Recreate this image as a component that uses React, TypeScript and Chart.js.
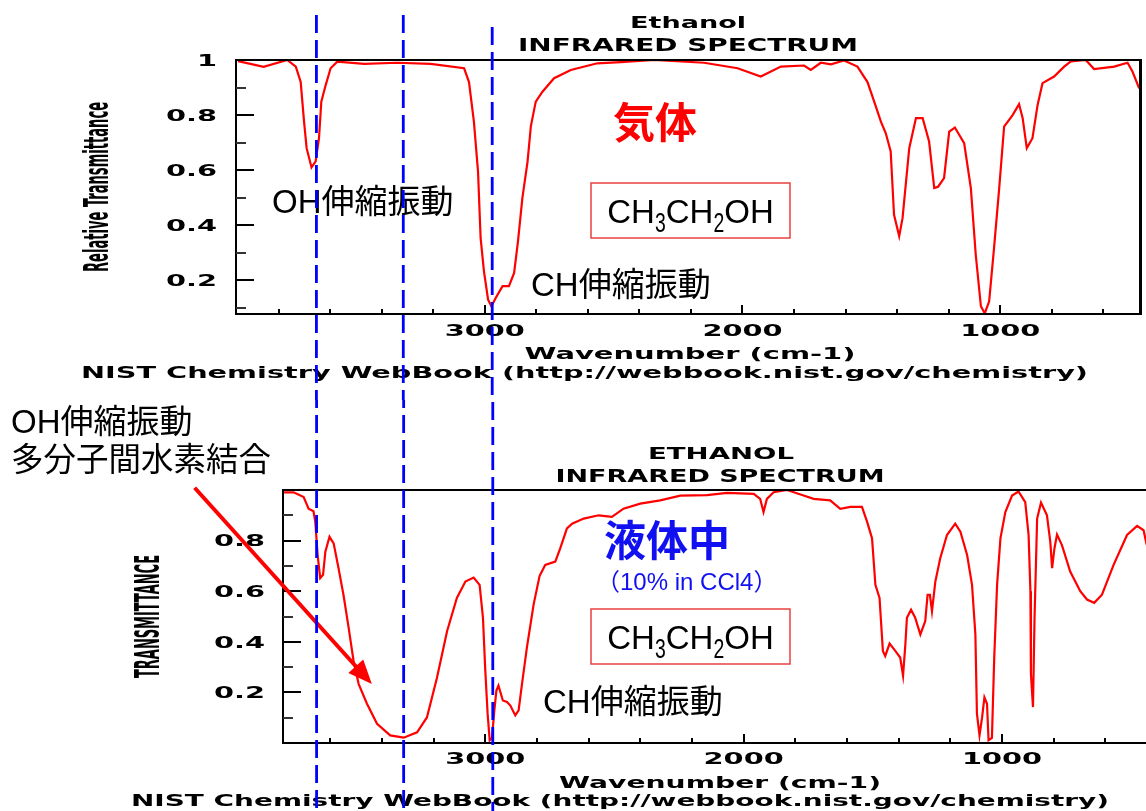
import React, { useEffect, useRef } from "react";
import { Chart, registerables } from "chart.js";

Chart.register(...registerables);

// ---------------- data ----------------
// Gas phase (top) spectrum
const gasWavenumber = [3957, 3858, 3766, 3733, 3714, 3701, 3691, 3672, 3656, 3643, 3634, 3617, 3598, 3572, 3468, 3339, 3210, 3080, 3061, 3042, 3026, 3016, 3003, 2987, 2974, 2957, 2931, 2906, 2886, 2871, 2854, 2834, 2821, 2802, 2776, 2731, 2666, 2563, 2472, 2343, 2149, 2019, 1929, 1851, 1761, 1735, 1696, 1657, 1606, 1554, 1515, 1489, 1463, 1444, 1425, 1412, 1392, 1379, 1353, 1327, 1301, 1276, 1256, 1241, 1218, 1198, 1176, 1140, 1114, 1095, 1075, 1060, 1043, 1024, 1004, 985, 952, 927, 913, 897, 875, 855, 836, 791, 752, 726, 668, 636, 558, 506, 487, 461];
const gasTransmittance = [0.996, 0.975, 1.0, 0.976, 0.92, 0.776, 0.68, 0.61, 0.632, 0.716, 0.849, 0.909, 0.97, 0.994, 0.986, 0.99, 0.986, 0.97, 0.92, 0.776, 0.595, 0.354, 0.233, 0.13, 0.106, 0.137, 0.179, 0.179, 0.227, 0.342, 0.499, 0.63, 0.76, 0.849, 0.885, 0.934, 0.964, 0.988, 0.992, 1.0, 0.99, 0.97, 0.94, 0.976, 0.98, 0.964, 0.99, 0.984, 0.998, 0.976, 0.92, 0.849, 0.776, 0.734, 0.668, 0.438, 0.36, 0.426, 0.68, 0.789, 0.789, 0.704, 0.535, 0.54, 0.571, 0.74, 0.755, 0.698, 0.535, 0.293, 0.106, 0.08, 0.124, 0.318, 0.535, 0.758, 0.8, 0.84, 0.789, 0.68, 0.716, 0.837, 0.916, 0.94, 0.976, 0.995, 1.0, 0.967, 0.976, 0.99, 0.958, 0.897];

// Liquid (10% in CCl4, bottom) spectrum
const liquidWavenumber = [3781, 3742, 3703, 3684, 3665, 3658, 3649, 3639, 3628, 3619, 3603, 3587, 3568, 3549, 3529, 3510, 3490, 3458, 3419, 3368, 3316, 3264, 3226, 3187, 3148, 3110, 3077, 3045, 3022, 3009, 3000, 2991, 2983, 2974, 2965, 2957, 2949, 2932, 2916, 2903, 2884, 2871, 2858, 2839, 2813, 2790, 2768, 2729, 2710, 2684, 2664, 2619, 2561, 2510, 2465, 2400, 2323, 2245, 2142, 2064, 1961, 1936, 1923, 1910, 1884, 1832, 1768, 1729, 1665, 1626, 1587, 1542, 1522, 1503, 1490, 1474, 1461, 1452, 1435, 1413, 1394, 1383, 1374, 1368, 1352, 1336, 1316, 1297, 1288, 1279, 1271, 1258, 1239, 1213, 1181, 1161, 1135, 1116, 1103, 1097, 1087, 1077, 1068, 1058, 1052, 1039, 1030, 1019, 1006, 987, 961, 936, 910, 897, 890, 888, 880, 874, 864, 849, 826, 813, 806, 797, 787, 768, 736, 697, 671, 643, 613, 568, 516, 477, 452, 441, 420];
const liquidTransmittance = [0.991, 0.991, 0.972, 0.926, 0.916, 0.874, 0.743, 0.652, 0.665, 0.756, 0.815, 0.789, 0.691, 0.586, 0.456, 0.325, 0.233, 0.155, 0.076, 0.03, 0.021, 0.042, 0.101, 0.258, 0.442, 0.573, 0.638, 0.654, 0.625, 0.495, 0.286, 0.116, 0.011, 0.02, 0.129, 0.207, 0.227, 0.168, 0.162, 0.148, 0.109, 0.129, 0.233, 0.377, 0.547, 0.66, 0.704, 0.717, 0.769, 0.848, 0.867, 0.887, 0.9, 0.894, 0.926, 0.946, 0.959, 0.978, 0.98, 0.989, 0.985, 0.965, 0.913, 0.965, 0.991, 1.0, 0.978, 0.965, 0.959, 0.926, 0.933, 0.933, 0.874, 0.809, 0.625, 0.573, 0.364, 0.344, 0.393, 0.364, 0.338, 0.266, 0.39, 0.495, 0.527, 0.495, 0.429, 0.482, 0.586, 0.586, 0.521, 0.638, 0.73, 0.822, 0.867, 0.835, 0.743, 0.625, 0.429, 0.116, 0.03, 0.101, 0.18, 0.155, 0.011, 0.02, 0.338, 0.625, 0.809, 0.913, 0.978, 0.994, 0.952, 0.822, 0.6, 0.273, 0.142, 0.495, 0.887, 0.95, 0.9, 0.795, 0.691, 0.769, 0.824, 0.782, 0.678, 0.6, 0.567, 0.554, 0.586, 0.704, 0.822, 0.858, 0.841, 0.789, 0.72];

// ticks
const xMajorTicks = [3000, 2000, 1000];
const xMinorTicks = [3800, 3600, 3400, 3200, 2800, 2600, 2400, 2200, 1800, 1600, 1400, 1200, 800, 600, 400];
const gasYLabels = [1, 0.8, 0.6, 0.4, 0.2];
const liquidYLabels = [0.8, 0.6, 0.4, 0.2];
const yMajorTicks = [0.8, 0.6, 0.4, 0.2];
const yMinorTicks = [0.9, 0.7, 0.5, 0.3, 0.1];

// blue dashed guide lines (wavenumbers)
const guideLines = [3653, 3316, 2971];
const guideTops = [15, 15, 27];

// formula parts: [text, isSubscript]
const formulaParts: [string, boolean][] = [["CH", false], ["3", true], ["CH", false], ["2", true], ["OH", false]];

// -------------- fonts --------------
const WIDE = '"DejaVu Sans", "Liberation Sans", sans-serif';
const NARROW = '"Liberation Sans Narrow", "DejaVu Sans Condensed", "Liberation Sans", sans-serif';
const JP = '"Liberation Sans", "Noto Sans CJK JP", sans-serif';
const ARIAL = '"Liberation Sans", Arial, sans-serif';

type TextOpt = {
  size: number; family: string; weight?: string; color?: string;
  align?: CanvasTextAlign; width?: number; stretch?: number; vertical?: boolean;
};

function drawText(ctx: CanvasRenderingContext2D, text: string, x: number, y: number, o: TextOpt) {
  ctx.save();
  ctx.font = `${o.weight || "normal"} ${o.size}px ${o.family}`;
  ctx.fillStyle = o.color || "#000";
  ctx.textAlign = o.align || "left";
  ctx.textBaseline = "middle";
  const w = ctx.measureText(text).width;
  const sx = o.width ? o.width / w : o.stretch || 1;
  ctx.translate(x, y);
  if (o.vertical) ctx.rotate(-Math.PI / 2);
  ctx.scale(sx, 1);
  ctx.fillText(text, 0, 0);
  ctx.restore();
}

function drawFormulaBox(ctx: CanvasRenderingContext2D, bx: number, by: number, bw: number, bh: number) {
  ctx.save();
  ctx.strokeStyle = "#e8413f";
  ctx.lineWidth = 1.5;
  ctx.strokeRect(bx, by, bw, bh);
  const mainFont = `33px ${ARIAL}`;
  const subFont = `27px ${ARIAL}`;
  const subStretch = 0.72;
  let total = 0;
  const widths = formulaParts.map(([t, sub]) => {
    ctx.font = sub ? subFont : mainFont;
    const w = ctx.measureText(t).width * (sub ? subStretch : 1);
    total += w;
    return w;
  });
  let x = bx + bw / 2 - total / 2;
  const base = by + 40;
  ctx.fillStyle = "#000";
  ctx.textBaseline = "alphabetic";
  ctx.textAlign = "left";
  formulaParts.forEach(([t, sub], i) => {
    ctx.save();
    ctx.font = sub ? subFont : mainFont;
    ctx.translate(x, sub ? base + 9 : base);
    if (sub) ctx.scale(subStretch, 1);
    ctx.fillText(t, 0, 0);
    ctx.restore();
    x += widths[i];
  });
  ctx.restore();
}

type Deco = {
  yLabels: number[];
  labelGap: number;
  xLabelY: number;
  rightBorder: boolean;
  guideStart: (i: number) => number;
  guideOffset: (i: number) => number;
  annotate: (chart: any, ctx: CanvasRenderingContext2D) => void;
};

function makeDecor(d: Deco) {
  return {
    id: "decor",
    afterDraw(chart: any) {
      const ctx: CanvasRenderingContext2D = chart.ctx;
      const a = chart.chartArea;
      const xs = chart.scales.x;
      const ys = chart.scales.y;
      ctx.save();
      // frame
      ctx.strokeStyle = "#000";
      ctx.lineWidth = 2;
      ctx.beginPath();
      ctx.moveTo(a.left, a.top);
      ctx.lineTo(a.right, a.top);
      ctx.moveTo(a.left, a.top - 1);
      ctx.lineTo(a.left, a.bottom + 1);
      ctx.moveTo(a.left, a.bottom);
      ctx.lineTo(a.right, a.bottom);
      ctx.stroke();
      if (d.rightBorder) {
        ctx.lineWidth = 3;
        ctx.beginPath();
        ctx.moveTo(a.right - 1.5, a.top - 1);
        ctx.lineTo(a.right - 1.5, a.bottom + 1);
        ctx.stroke();
      }
      // y ticks (inward)
      const yTick = (v: number, len: number, col: string) => {
        if (v < ys.min || v > ys.max) return;
        const py = Math.round(ys.getPixelForValue(v));
        ctx.strokeStyle = col;
        ctx.lineWidth = 2;
        ctx.beginPath();
        ctx.moveTo(a.left, py);
        ctx.lineTo(a.left + len, py);
        ctx.stroke();
      };
      yMinorTicks.forEach((v) => yTick(v, 10, "#333"));
      yMajorTicks.forEach((v) => yTick(v, 18, "#000"));
      // x ticks (inward)
      const xTick = (v: number, len: number) => {
        if (v < xs.min || v > xs.max) return;
        const px = Math.round(xs.getPixelForValue(v));
        ctx.strokeStyle = "#000";
        ctx.lineWidth = 2;
        ctx.beginPath();
        ctx.moveTo(px, a.bottom);
        ctx.lineTo(px, a.bottom - len);
        ctx.stroke();
      };
      xMinorTicks.forEach((v) => xTick(v, 5));
      xMajorTicks.forEach((v) => xTick(v, 9));
      // tick labels
      d.yLabels.forEach((v) => {
        drawText(ctx, String(v), a.left - d.labelGap, ys.getPixelForValue(v) + 2, {
          size: 15, family: WIDE, weight: "bold", align: "right", stretch: 1.92,
        });
      });
      xMajorTicks.forEach((v) => {
        drawText(ctx, String(v), xs.getPixelForValue(v), d.xLabelY, {
          size: 15, family: WIDE, weight: "bold", align: "center", stretch: 1.92,
        });
      });
      // annotations
      d.annotate(chart, ctx);
      // blue dashed guide lines
      ctx.strokeStyle = "#0000ff";
      ctx.lineWidth = 2.8;
      ctx.setLineDash([18, 7]);
      guideLines.forEach((v, i) => {
        const px = xs.getPixelForValue(v);
        ctx.lineDashOffset = d.guideOffset(i);
        ctx.beginPath();
        ctx.moveTo(px, d.guideStart(i));
        ctx.lineTo(px, chart.height);
        ctx.stroke();
      });
      ctx.restore();
    },
  };
}

function baseOptions(xmin: number, xmax: number, ymin: number, ymax: number, padding: any) {
  return {
    animation: false,
    responsive: false,
    devicePixelRatio: 1,
    layout: { padding },
    plugins: { legend: { display: false }, tooltip: { enabled: false }, title: { display: false } },
    elements: { point: { radius: 0 }, line: { tension: 0 } },
    scales: {
      x: {
        type: "linear", reverse: true, min: xmin, max: xmax,
        ticks: { display: false }, grid: { display: false }, border: { display: false },
        afterFit: (s: any) => { s.height = 0; },
      },
      y: {
        type: "linear", min: ymin, max: ymax,
        ticks: { display: false }, grid: { display: false }, border: { display: false },
        afterFit: (s: any) => { s.width = 0; },
      },
    },
  };
}

function makeGasChart(canvas: HTMLCanvasElement) {
  const points = gasWavenumber.map((w, i) => ({ x: w, y: gasTransmittance[i] }));
  const decor = makeDecor({
    yLabels: gasYLabels,
    labelGap: 19,
    xLabelY: 332,
    rightBorder: true,
    guideStart: (i) => guideTops[i],
    guideOffset: () => 0,
    annotate: (chart, ctx) => {
      drawText(ctx, "Ethanol", 688, 24, { size: 16, family: WIDE, weight: "bold", align: "center", width: 116 });
      drawText(ctx, "INFRARED SPECTRUM", 688, 46.5, { size: 17, family: WIDE, weight: "bold", align: "center", width: 340 });
      drawText(ctx, "Wavenumber (cm-1)", 690, 355, { size: 16, family: WIDE, weight: "bold", align: "center", width: 331 });
      drawText(ctx, "NIST Chemistry WebBook (http://webbook.nist.gov/chemistry)", 584.5, 374, { size: 16, family: WIDE, weight: "bold", align: "center", width: 1007 });
      drawText(ctx, "Relative Transmittance", 99, 187, { size: 34, family: NARROW, weight: "bold", align: "center", width: 170, vertical: true });
      drawText(ctx, "OH伸縮振動", 272, 204, { size: 33, family: JP, color: "#000" });
      drawText(ctx, "CH伸縮振動", 531, 287, { size: 33, family: JP, color: "#000" });
      drawText(ctx, "気体", 613, 126, { size: 42, family: JP, weight: "bold", color: "#ff0000" });
      drawFormulaBox(ctx, 591, 183, 199, 55);
    },
  });
  return new Chart(canvas, {
    type: "line",
    data: {
      datasets: [{ data: points, borderColor: "#ff0000", borderWidth: 2.2, pointRadius: 0, fill: false }],
    },
    options: baseOptions(450, 3965, 0.078, 1, { left: 236, right: 4, top: 60, bottom: 86 }) as any,
    plugins: [decor],
  });
}

function makeLiquidChart(canvas: HTMLCanvasElement) {
  const points = liquidWavenumber.map((w, i) => ({ x: w, y: liquidTransmittance[i] }));
  const decor = makeDecor({
    yLabels: liquidYLabels,
    labelGap: 18,
    xLabelY: 360,
    rightBorder: false,
    guideStart: () => 0,
    guideOffset: (i) => 400 - guideTops[i],
    annotate: (chart, ctx) => {
      const xs = chart.scales.x;
      const ys = chart.scales.y;
      drawText(ctx, "ETHANOL", 721, 55, { size: 16, family: WIDE, weight: "bold", align: "center", width: 146 });
      drawText(ctx, "INFRARED SPECTRUM", 720, 77.5, { size: 17, family: WIDE, weight: "bold", align: "center", width: 329 });
      drawText(ctx, "Wavenumber (cm-1)", 720, 383.5, { size: 16, family: WIDE, weight: "bold", align: "center", width: 322 });
      drawText(ctx, "NIST Chemistry WebBook (http://webbook.nist.gov/chemistry)", 620, 401.5, { size: 16, family: WIDE, weight: "bold", align: "center", width: 978 });
      drawText(ctx, "TRANSMITTANCE", 150.5, 216.5, { size: 34, family: NARROW, weight: "bold", align: "center", width: 123, vertical: true });
      drawText(ctx, "OH伸縮振動", 11, 24, { size: 33, family: JP, color: "#000" });
      drawText(ctx, "多分子間水素結合", 11, 62, { size: 32.5, family: JP, color: "#000" });
      drawText(ctx, "CH伸縮振動", 543, 304, { size: 33, family: JP, color: "#000" });
      drawText(ctx, "液体中", 604, 144, { size: 42, family: JP, weight: "bold", color: "#1010f0" });
      drawText(ctx, "（10% in CCl4）", 596, 183, { size: 24, family: JP, color: "#1010f0" });
      drawFormulaBox(ctx, 591, 209, 199, 55);
      // red arrow pointing to the broad H-bonded OH band
      const x0 = xs.getPixelForValue(4125), y0 = ys.getPixelForValue(1.009);
      const x1 = xs.getPixelForValue(3439), y1 = ys.getPixelForValue(0.233);
      const dx = x1 - x0, dy = y1 - y0;
      const L = Math.hypot(dx, dy);
      const ux = dx / L, uy = dy / L;
      const head = 24, half = 10;
      const bx = x1 - ux * head, by = y1 - uy * head;
      ctx.save();
      ctx.strokeStyle = "#ff0000";
      ctx.fillStyle = "#ff0000";
      ctx.lineWidth = 4;
      ctx.beginPath();
      ctx.moveTo(x0, y0);
      ctx.lineTo(bx + ux * 2, by + uy * 2);
      ctx.stroke();
      ctx.beginPath();
      ctx.moveTo(x1, y1);
      ctx.lineTo(bx - uy * half, by + ux * half);
      ctx.lineTo(bx + uy * half, by - ux * half);
      ctx.closePath();
      ctx.fill();
      ctx.restore();
    },
  });
  return new Chart(canvas, {
    type: "line",
    data: {
      datasets: [{ data: points, borderColor: "#ff0000", borderWidth: 2.2, pointRadius: 0, fill: false }],
    },
    options: baseOptions(400, 3783, 0, 1, { left: 283, right: 3, top: 90, bottom: 68 }) as any,
    plugins: [decor],
  });
}

export default function App() {
  const topRef = useRef<HTMLCanvasElement>(null);
  const botRef = useRef<HTMLCanvasElement>(null);
  useEffect(() => {
    const charts = [makeGasChart(topRef.current!), makeLiquidChart(botRef.current!)];
    if ((document as any).fonts && (document as any).fonts.ready) {
      (document as any).fonts.ready.then(() => charts.forEach((c) => c.update()));
    }
    return () => charts.forEach((c) => c.destroy());
  }, []);
  return (
    <div style={{ position: "absolute", left: 0, top: 0, width: 1146, height: 811, overflow: "hidden", background: "#fff" }}>
      <canvas ref={topRef} width={1146} height={400} style={{ position: "absolute", left: 0, top: 0, display: "block" }} />
      <canvas ref={botRef} width={1160} height={411} style={{ position: "absolute", left: 0, top: 400, display: "block" }} />
    </div>
  );
}
